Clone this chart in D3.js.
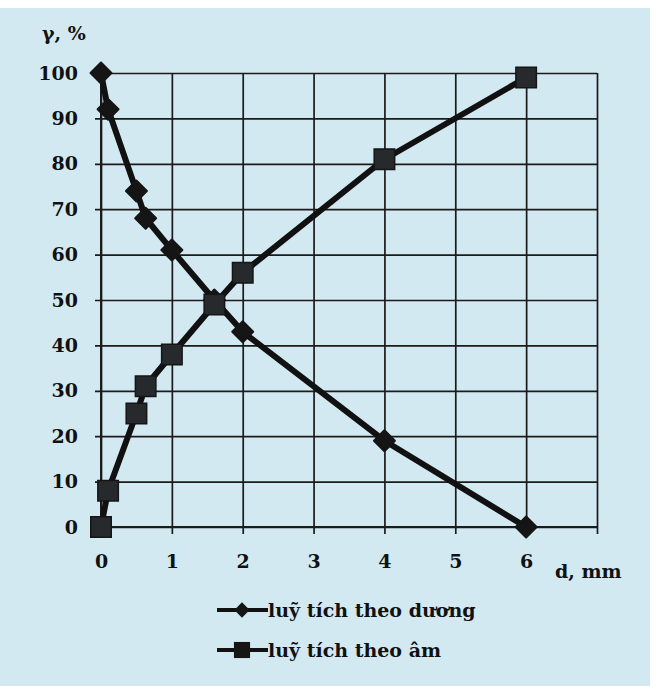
<!DOCTYPE html>
<html>
<head>
<meta charset="utf-8">
<script src="https://cdn.jsdelivr.net/npm/d3@7"></script>
<style>
  body { margin: 0; background: #fff; }
  svg text { font-family: "DejaVu Serif", serif; font-weight: bold; fill: #111; }
</style>
</head>
<body>
<div id="container"></div>
<script>
/* CONSTANTS AND GLOBALS */
const width = 659, height = 686
const margin = { top: 73, bottom: 159, left: 101, right: 62 }

/* DATA */
const sizes = [0, 0.1, 0.5, 0.63, 1, 1.6, 2, 4, 6]
const cumPositive = [100, 92, 74, 68, 61, 50, 43, 19, 0]   // luỹ tích theo dương
const cumNegative = [0, 8, 25, 31, 38, 49, 56, 81, 99]     // luỹ tích theo âm
const xTicks = [0, 1, 2, 3, 4, 5, 6, 7]
const xTickLabels = ["0", "1", "2", "3", "4", "5", "6", ""]
const yTicks = [0, 10, 20, 30, 40, 50, 60, 70, 80, 90, 100]
const seriesNames = ["luỹ tích theo dương", "luỹ tích theo âm"]

/* SCALES */
const xScale = d3.scaleLinear()
  .domain([0, 7])
  .range([margin.left, width - margin.right])

const yScale = d3.scaleLinear()
  .domain([0, 100])
  .range([height - margin.bottom, margin.top])

/* HTML ELEMENTS */
const svg = d3.select("#container")
  .append("svg")
  .attr("width", width)
  .attr("height", height)

// scanned paper background
svg.append("rect")
  .attr("x", 0).attr("y", 8)
  .attr("width", 650).attr("height", height - 8)
  .attr("fill", "#d3e9f1")

// grid via axes
const xAxis = d3.axisBottom(xScale)
  .tickValues(xTicks)
  .tickFormat((d, i) => xTickLabels[i])
  .tickSize(height - margin.bottom - margin.top + 7)
  .tickPadding(21)

const yAxis = d3.axisLeft(yScale)
  .tickValues(yTicks)
  .tickSize(width - margin.right - margin.left + 6)
  .tickPadding(17)

svg.append("g")
  .attr("transform", `translate(0,${margin.top})`)
  .call(xAxis)
  .call(g => g.select(".domain").remove())
  .call(g => g.selectAll("line").attr("stroke", "#1b1b1b").attr("stroke-width", 1.7))
  .call(g => g.selectAll("text").attr("font-size", 19).attr("fill", "#111"))

svg.append("g")
  .attr("transform", `translate(${width - margin.right},0)`)
  .call(yAxis)
  .call(g => g.select(".domain").remove())
  .call(g => g.selectAll("line").attr("stroke", "#1b1b1b").attr("stroke-width", 1.7))
  .call(g => g.selectAll("text").attr("font-size", 19).attr("fill", "#111"))

// axis frame
svg.append("line")
  .attr("x1", xScale(0)).attr("x2", xScale(0))
  .attr("y1", yScale(100)).attr("y2", yScale(0) + 7)
  .attr("stroke", "#1b1b1b").attr("stroke-width", 2)
svg.append("line")
  .attr("x1", xScale(0) - 6).attr("x2", xScale(7))
  .attr("y1", yScale(0)).attr("y2", yScale(0))
  .attr("stroke", "#1b1b1b").attr("stroke-width", 2)

// axis titles
svg.append("text")
  .attr("x", 42).attr("y", 40)
  .attr("font-size", 19)
  .text("γ, %")

svg.append("text")
  .attr("x", 555).attr("y", 578)
  .attr("font-size", 19)
  .text("d, mm")

// lines
const line = d3.line()
  .x((d, i) => xScale(sizes[i]))
  .y(d => yScale(d))

svg.append("path")
  .datum(cumPositive)
  .attr("d", line)
  .attr("fill", "none")
  .attr("stroke", "#111")
  .attr("stroke-width", 6)
  .attr("stroke-linejoin", "round")

svg.append("path")
  .datum(cumNegative)
  .attr("d", line)
  .attr("fill", "none")
  .attr("stroke", "#111")
  .attr("stroke-width", 6)
  .attr("stroke-linejoin", "round")

// markers
const diamond = d3.symbol().type(d3.symbolDiamond2).size(280)
const square = d3.symbol().type(d3.symbolSquare).size(420)

svg.selectAll("path.pos")
  .data(cumPositive)
  .join("path")
  .attr("class", "pos")
  .attr("d", diamond)
  .attr("transform", (d, i) => `translate(${xScale(sizes[i])},${yScale(d)})`)
  .attr("fill", "#151515")
  .attr("stroke", "#151515").attr("stroke-width", 2).attr("stroke-linejoin", "round")

svg.selectAll("path.neg")
  .data(cumNegative)
  .join("path")
  .attr("class", "neg")
  .attr("d", square)
  .attr("transform", (d, i) => `translate(${xScale(sizes[i])},${yScale(d)})`)
  .attr("fill", "#262a2c")
  .attr("stroke", "#151515").attr("stroke-width", 1.5)

// legend
const legend = svg.append("g")
const legendRows = [
  { name: seriesNames[0], sym: d3.symbol().type(d3.symbolDiamond2).size(150), y: 610 },
  { name: seriesNames[1], sym: d3.symbol().type(d3.symbolSquare).size(260), y: 650 }
]
legendRows.forEach(r => {
  legend.append("line")
    .attr("x1", 217).attr("x2", 268)
    .attr("y1", r.y).attr("y2", r.y)
    .attr("stroke", "#111").attr("stroke-width", 4)
  legend.append("path")
    .attr("d", r.sym)
    .attr("transform", `translate(242,${r.y})`)
    .attr("fill", "#151515")
  legend.append("text")
    .attr("x", 268).attr("y", r.y + 7)
    .attr("font-size", 19)
    .text(r.name)
})
</script>
</body>
</html>
